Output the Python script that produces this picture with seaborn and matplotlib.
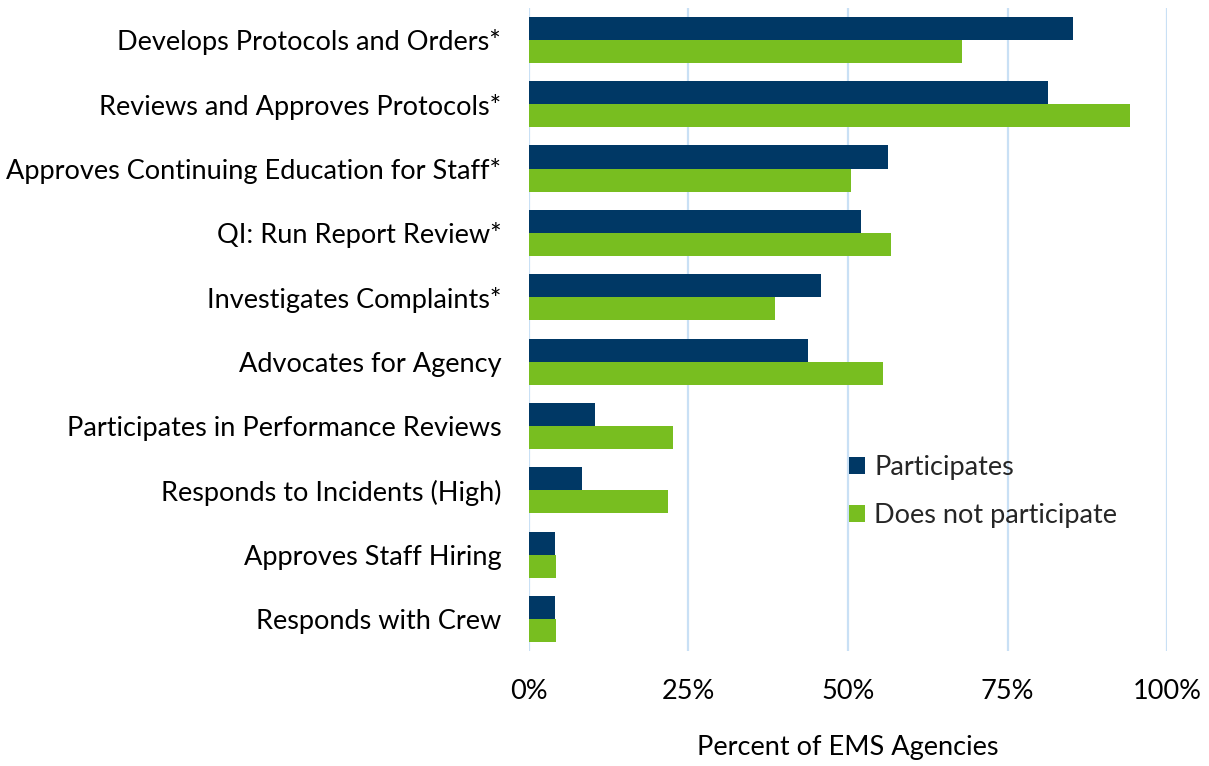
import matplotlib
matplotlib.use("Agg")
import matplotlib.pyplot as plt
import matplotlib.ticker as mticker
import seaborn as sns
import pandas as pd

# Medical director roles, by agency participation status (percent of EMS agencies)
roles = [
    "Develops Protocols and Orders*",
    "Reviews and Approves Protocols*",
    "Approves Continuing Education for Staff*",
    "QI: Run Report Review*",
    "Investigates Complaints*",
    "Advocates for Agency",
    "Participates in Performance Reviews",
    "Responds to Incidents (High)",
    "Approves Staff Hiring",
    "Responds with Crew",
]
participates = [85.3, 81.3, 56.3, 52.1, 45.8, 43.8, 10.4, 8.3, 4.1, 4.1]
does_not_participate = [67.8, 94.2, 50.4, 56.8, 38.6, 55.5, 22.6, 21.8, 4.3, 4.3]
groups = ["Participates", "Does not participate"]
colors = ["#003865", "#78be20"]
x_ticks = [0, 25, 50, 75, 100]
x_label = "Percent of EMS Agencies"

df = pd.DataFrame({
    "role": roles * 2,
    "group": [groups[0]] * len(roles) + [groups[1]] * len(roles),
    "value": participates + does_not_participate,
})

sns.set_theme(style="white")
plt.rcParams["font.family"] = ["Lato", "DejaVu Sans"]
FS = 19.5

fig = plt.figure(figsize=(12.09, 7.66), dpi=100)
ax = fig.add_axes([0.4375, 0.1499, 0.5278, 0.8399])

sns.barplot(
    data=df, y="role", x="value", hue="group", order=roles, hue_order=groups,
    palette=colors, orient="h", width=0.72, saturation=1, ax=ax,
    edgecolor="none", linewidth=0,
)

ax.set_xlim(0, 100)
ax.set_ylim(len(roles) - 0.5, -0.5)
ax.set_xticks(x_ticks)
ax.xaxis.set_major_formatter(mticker.FuncFormatter(lambda v, p: f"{v:.0f}%"))
ax.grid(axis="x", color="#c9e0f5", linewidth=1.6)
ax.set_axisbelow(True)
for s in ax.spines.values():
    s.set_visible(False)
ax.tick_params(axis="both", length=0, labelsize=FS, colors="black")
ax.tick_params(axis="y", pad=20)
ax.tick_params(axis="x", pad=20)
ax.set_ylabel("")
ax.set_xlabel(x_label, fontsize=FS, labelpad=22, color="black")

ax.legend(
    loc="upper left", bbox_to_anchor=(0.463, 0.343), frameon=False,
    fontsize=FS, handlelength=0.6, handleheight=0.6, handletextpad=0.35,
    labelspacing=0.85,
)

fig.savefig("out.png", dpi=100)
